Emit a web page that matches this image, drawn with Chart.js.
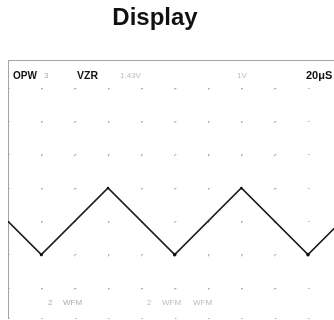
<!DOCTYPE html>
<html>
<head>
<meta charset="utf-8">
<title>Display</title>
<script src="https://cdn.jsdelivr.net/npm/chart.js@4"></script>
<style>
    html, body { margin: 0; padding: 0; background: #fff; }
    #wrap { position: relative; width: 334px; height: 320px; }
</style>
</head>
<body>
<div id="wrap"><canvas id="scopeChart" width="334" height="320"></canvas></div>
<script>
// 波形頂點（橫軸：格數，縱軸：格數）
const sweepDiv = [0, 1, 3, 5, 7, 9, 9.8];
const traceDiv = [3, 2, 4, 2, 4, 2, 2.8];
const vertexDot = [0, 1.6, 1.2, 1.8, 1.2, 1.8, 0];

// 螢幕上的讀數文字
const titleText = 'Display';
const topReadout = ['OPW', '3', 'VZR', '1.43V', '1V', '20μS'];
const bottomReadout = ['2', 'WFM', '2', 'WFM', 'WFM'];

const FONT = '"Liberation Sans", Arial, sans-serif';

/**
 * 標題與螢幕讀數
 */
const readoutPlugin = {
    id: 'readout',
    afterDraw(chart) {
        const ctx = chart.ctx;
        ctx.save();
        ctx.textBaseline = 'alphabetic';

        ctx.fillStyle = '#111';
        ctx.textAlign = 'center';
        ctx.font = 'bold 24px ' + FONT;
        ctx.fillText(titleText, 155, 25);

        ctx.textAlign = 'left';
        const put = (text, x, y, font, color) => {
            ctx.font = font;
            ctx.fillStyle = color;
            ctx.fillText(text, x, y);
        };
        put(topReadout[0], 13, 79, 'bold 10px ' + FONT, '#111');
        put(topReadout[1], 44, 78, '8px ' + FONT, '#aaa');
        put(topReadout[2], 77, 79, 'bold 10.5px ' + FONT, '#111');
        put(topReadout[3], 120, 78, '8px ' + FONT, '#bbb');
        put(topReadout[4], 237, 78, '8px ' + FONT, '#bbb');
        put(topReadout[5], 306, 79, 'bold 11px ' + FONT, '#111');

        put(bottomReadout[0], 48, 305, '8px ' + FONT, '#aaa');
        put(bottomReadout[1], 63, 305, '8px ' + FONT, '#aaa');
        put(bottomReadout[2], 147, 305, '8px ' + FONT, '#bbb');
        put(bottomReadout[3], 162, 305, '8px ' + FONT, '#bbb');
        put(bottomReadout[4], 193, 305, '8px ' + FONT, '#bbb');
        ctx.restore();
    }
};

const ctx = document.getElementById('scopeChart');

new Chart(ctx, {
    type: 'line',
    data: {
        datasets: [{
            data: sweepDiv.map((x, i) => ({ x: x, y: traceDiv[i] })),
            borderColor: '#1c1c1c',
            borderWidth: 1.6,
            tension: 0,
            fill: false,
            pointRadius: vertexDot,
            pointBackgroundColor: '#111',
            pointBorderWidth: 0
        }]
    },
    options: {
        responsive: false,
        animation: false,
        events: [],
        layout: {
            padding: { top: 60, left: 8, right: 0, bottom: 2 }
        },
        scales: {
            x: {
                type: 'linear',
                position: 'top',
                min: 0,
                max: 9.78,
                ticks: { display: false, stepSize: 1 },
                grid: { color: '#b0b0b0', lineWidth: 1, drawTicks: false },
                border: { display: true, color: '#a5a5a5', width: 1, dash: [1.5, 31.83], dashOffset: 6.1 }
            },
            y: {
                type: 'linear',
                position: 'left',
                min: 0.1,
                max: 7.84,
                ticks: { display: false, stepSize: 1 },
                grid: { color: '#b0b0b0', lineWidth: 1, drawTicks: false },
                border: { display: true, color: '#a5a5a5', width: 1, dash: [1.5, 31.83], dashOffset: 0.75 }
            }
        },
        plugins: {
            legend: { display: false },
            tooltip: { enabled: false },
            title: { display: false }
        }
    },
    plugins: [readoutPlugin]
});
</script>
</body>
</html>
